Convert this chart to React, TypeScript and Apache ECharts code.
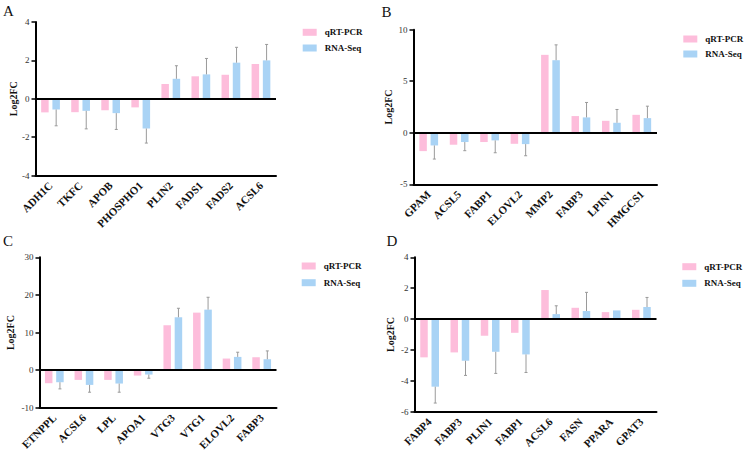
import React, { useEffect, useRef } from "react";
import * as echarts from "echarts";

// Gene panels: log2 fold change from qRT-PCR and RNA-Seq, with RNA-Seq SD
const genesA = ["ADH1C", "TKFC", "APOB", "PHOSPHO1", "PLIN2", "FADS1", "FADS2", "ACSL6"];
const pcrA = [-0.71, -0.7, -0.6, -0.45, 0.77, 1.17, 1.25, 1.81];
const seqA = [-0.56, -0.63, -0.75, -1.55, 1.04, 1.27, 1.88, 2.0];
const sdA = [0.85, 0.94, 0.85, 0.76, 0.68, 0.83, 0.8, 0.83];

const genesB = ["GPAM", "ACSL5", "FABP1", "ELOVL2", "MMP2", "FABP3", "LPIN1", "HMGCS1"];
const pcrB = [-1.78, -1.16, -0.9, -1.07, 7.56, 1.62, 1.16, 1.74];
const seqB = [-1.23, -0.9, -0.74, -1.1, 7.04, 1.49, 0.97, 1.42];
const sdB = [1.32, 0.84, 1.2, 1.13, 1.49, 1.45, 1.29, 1.16];

const genesC = ["ETNPPL", "ACSL6", "LPL", "APOA1", "VTG3", "VTG1", "ELOVL2", "FABP3"];
const pcrC = [-3.45, -2.57, -2.57, -1.42, 11.95, 15.3, 3.1, 3.45];
const seqC = [-3.19, -3.9, -3.54, -1.15, 14.07, 16.1, 3.54, 2.92];
const sdC = [1.77, 1.94, 2.3, 0.97, 2.39, 3.28, 1.24, 2.21];

const genesD = ["FABP4", "FABP3", "PLIN1", "FABP1", "ACSL6", "FASN", "PPARA", "GPAT3"];
const pcrD = [-2.48, -2.16, -1.08, -0.89, 1.88, 0.73, 0.45, 0.6];
const seqD = [-4.38, -2.7, -2.12, -2.29, 0.32, 0.52, 0.56, 0.78];
const sdD = [1.06, 0.95, 1.4, 1.17, 0.54, 1.21, 0, 0.62];

const seriesNames = ["qRT-PCR", "RNA-Seq"];

const SERIF = "Liberation Serif";
const PINK = "#FDBDDB";
const BLUE = "#A9D3F5";
const BAR_W = 7.5;
const GAP = 3.75;
const BLUE_OFFSET = (BAR_W + GAP) / 2;

const panels = [
  {
    letter: "A", genes: genesA, pcr: pcrA, seq: seqA, sd: sdA,
    min: -4, max: 4, step: 2,
    grid: { left: 35.5, top: 22, width: 240.5, height: 153.5 },
    nameGap: 16.5, letterPos: [3, 3], legendPos: [302.7, 27.8, 6.7],
  },
  {
    letter: "B", genes: genesB, pcr: pcrB, seq: seqB, sd: sdB,
    min: -5, max: 10, step: 5,
    grid: { left: 413.5, top: 29.7, width: 243.5, height: 154.6 },
    nameGap: 20.5, letterPos: [381.5, 4], legendPos: [683.3, 34.5, 6],
  },
  {
    letter: "C", genes: genesC, pcr: pcrC, seq: seqC, sd: sdC,
    min: -10, max: 30, step: 10,
    grid: { left: 39.5, top: 257.3, width: 237, height: 150.7 },
    nameGap: 24, letterPos: [3, 233], legendPos: [301.7, 261.5, 7.7],
  },
  {
    letter: "D", genes: genesD, pcr: pcrD, seq: seqD, sd: sdD,
    min: -6, max: 4, step: 2,
    grid: { left: 414.5, top: 257.3, width: 242, height: 154.4 },
    nameGap: 19.5, letterPos: [386.5, 233], legendPos: [682.3, 262.2, 7.6],
  },
];

function buildOption() {
  const grid: any[] = [];
  const xAxis: any[] = [];
  const yAxis: any[] = [];
  const series: any[] = [];
  const legend: any[] = [];
  const graphic: any[] = [];

  panels.forEach((p, k) => {
    grid.push({ ...p.grid, containLabel: false });
    xAxis.push({
      type: "category",
      gridIndex: k,
      data: p.genes,
      position: "bottom",
      axisLine: { onZero: false, lineStyle: { color: "#000", width: 2 } },
      axisTick: { alignWithLabel: true, length: 4, lineStyle: { color: "#000", width: 1.5 } },
      axisLabel: {
        interval: 0,
        rotate: 45,
        margin: 8,
        fontFamily: SERIF,
        fontWeight: "bold",
        fontSize: 11,
        color: "#111",
      },
      splitLine: { show: false },
    });
    yAxis.push({
      type: "value",
      gridIndex: k,
      min: p.min,
      max: p.max,
      interval: p.step,
      name: "Log2FC",
      nameLocation: "middle",
      nameGap: p.nameGap,
      nameTextStyle: { fontFamily: SERIF, fontWeight: "bold", fontSize: 10, color: "#111" },
      axisLine: { show: true, lineStyle: { color: "#000", width: 2 } },
      axisTick: { show: true, length: 4, lineStyle: { color: "#000", width: 1.5 } },
      axisLabel: { fontFamily: SERIF, fontSize: 9, color: "#333", margin: 6 },
      splitLine: { show: false },
    });

    series.push({
      name: seriesNames[0],
      type: "bar",
      xAxisIndex: k,
      yAxisIndex: k,
      data: p.pcr,
      barWidth: BAR_W,
      barGap: "50%",
      itemStyle: { color: PINK },
    });
    series.push({
      name: seriesNames[1],
      type: "bar",
      xAxisIndex: k,
      yAxisIndex: k,
      data: p.seq,
      barWidth: BAR_W,
      barGap: "50%",
      itemStyle: { color: BLUE },
      markLine: {
        silent: true,
        symbol: ["none", "none"],
        label: { show: false },
        lineStyle: { color: "#000", width: 2, type: "solid" },
        data: [{ yAxis: 0 }],
      },
    });
    series.push({
      name: "sd-" + p.letter,
      type: "custom",
      xAxisIndex: k,
      yAxisIndex: k,
      z: 3,
      data: p.seq.map((v, i) => [i, v, p.sd[i]]),
      encode: { x: 0, y: 1 },
      renderItem: (params: any, api: any) => {
        const i = api.value(0);
        const v = api.value(1);
        const sd = api.value(2);
        if (!sd) return null;
        const end = v >= 0 ? v + sd : v - sd;
        const a = api.coord([i, v]);
        const b = api.coord([i, end]);
        const x = a[0] + BLUE_OFFSET;
        const st = { stroke: "#9a9a9a", lineWidth: 1 };
        return {
          type: "group",
          children: [
            { type: "line", shape: { x1: x, y1: a[1], x2: x, y2: b[1] }, style: st },
            { type: "line", shape: { x1: x - 1.5, y1: b[1], x2: x + 1.5, y2: b[1] }, style: st },
          ],
        };
      },
    });

    legend.push({
      orient: "vertical",
      left: p.legendPos[0],
      top: p.legendPos[1],
      itemGap: p.legendPos[2],
      padding: 0,
      itemWidth: 14,
      itemHeight: 7,
      icon: "rect",
      selectedMode: false,
      data: seriesNames,
      textStyle: {
        fontFamily: SERIF,
        fontWeight: "bold",
        fontSize: 9,
        color: "#111",
        padding: [0, 0, 0, 3],
      },
    });

    graphic.push({
      type: "text",
      left: p.letterPos[0],
      top: p.letterPos[1],
      style: { text: p.letter, fontFamily: SERIF, fontSize: 15, fill: "#111" },
    });
  });

  return {
    animation: false,
    backgroundColor: "#fff",
    textStyle: { fontFamily: SERIF },
    grid,
    xAxis,
    yAxis,
    series,
    legend,
    graphic,
  };
}

export default function App() {
  const ref = useRef<HTMLDivElement>(null);
  useEffect(() => {
    if (!ref.current) return;
    const chart = echarts.init(ref.current, undefined, { renderer: "svg" });
    chart.setOption(buildOption() as any);
    return () => chart.dispose();
  }, []);
  return (
    <div
      ref={ref}
      style={{ position: "absolute", left: 0, top: 0, width: 750, height: 453, background: "#fff" }}
    />
  );
}
